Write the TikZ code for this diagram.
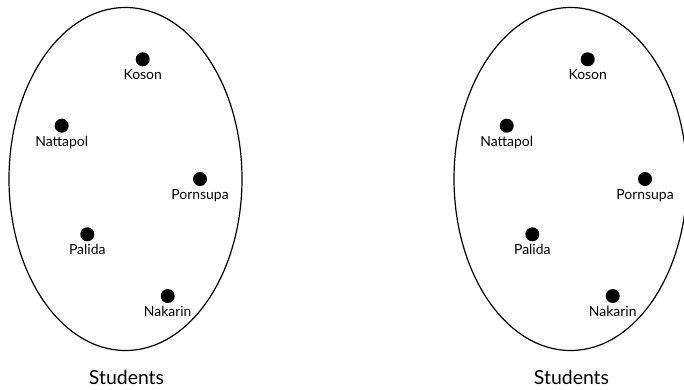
\documentclass[tikz,border=0pt]{standalone}
\usepackage{fontspec}
\setmainfont{Lato}
\begin{document}
\begin{tikzpicture}[x=1bp,y=-1bp,
  setline/.style={line width=1.2bp},
  member/.style={circle,fill=black,inner sep=0pt,minimum size=14bp},
  memberlabel/.style={font=\fontsize{14}{16}\selectfont,inner sep=0pt,anchor=base},
  setlabel/.style={font=\fontsize{19.5}{22}\selectfont,inner sep=0pt,anchor=base}]
\useasboundingbox (0,0) rectangle (684,389);
\fill[white] (0,0) rectangle (684,389);
\foreach \ox/\sfx in {0/a,445/b}{
  \begin{scope}[xshift=\ox bp]
    \draw[setline] (125.5,179) ellipse [x radius=116.5, y radius=171.5];
    \node[member] (koson\sfx) at (142.7,59.3) {};
    \node[memberlabel] at ([yshift=-20.5bp]koson\sfx.center) {Koson};
    \node[member] (nattapol\sfx) at (61.7,125.7) {};
    \node[memberlabel] at ([yshift=-20.5bp]nattapol\sfx.center) {Nattapol};
    \node[member] (pornsupa\sfx) at (200,179) {};
    \node[memberlabel] at ([yshift=-20.5bp]pornsupa\sfx.center) {Pornsupa};
    \node[member] (palida\sfx) at (87.3,234.3) {};
    \node[memberlabel] at ([yshift=-20.5bp]palida\sfx.center) {Palida};
    \node[member] (nakarin\sfx) at (167.7,296) {};
    \node[memberlabel] at ([yshift=-20.5bp]nakarin\sfx.center) {Nakarin};
    \node[setlabel] (students\sfx) at (126.5,384) {Students};
  \end{scope}
}
\end{tikzpicture}
\end{document}
